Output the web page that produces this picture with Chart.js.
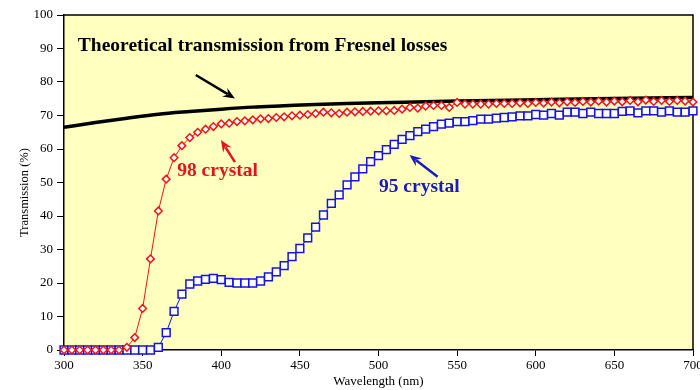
<!DOCTYPE html>
<html>
<head>
<meta charset="utf-8">
<script src="https://cdn.jsdelivr.net/npm/chart.js@4"></script>
<style>
  html, body { margin: 0; padding: 0; background: #fff; overflow: hidden; }
  #wrap { width: 700px; height: 390px; position: relative; }
</style>
</head>
<body>
<div id="wrap"><canvas id="chart"></canvas></div>
<script>
// ---- data ----
var wavelengths = [
  300, 305, 310, 315, 320, 325, 330, 335, 340, 345,
  350, 355, 360, 365, 370, 375, 380, 385, 390, 395,
  400, 405, 410, 415, 420, 425, 430, 435, 440, 445,
  450, 455, 460, 465, 470, 475, 480, 485, 490, 495,
  500, 505, 510, 515, 520, 525, 530, 535, 540, 545,
  550, 555, 560, 565, 570, 575, 580, 585, 590, 595,
  600, 605, 610, 615, 620, 625, 630, 635, 640, 645,
  650, 655, 660, 665, 670, 675, 680, 685, 690, 695,
  700
];

var crystal98 = [
  0, 0, 0, 0, 0, 0, 0, 0, 0.8, 3.7,
  12.4, 27.2, 41.5, 51.0, 57.4, 61.0, 63.4, 65.0, 65.9, 66.7,
  67.5, 67.7, 68.2, 68.4, 68.7, 69.0, 69.1, 69.4, 69.6, 69.9,
  70.1, 70.3, 70.6, 71.0, 70.8, 70.6, 71.0, 71.1, 71.2, 71.3,
  71.4, 71.4, 71.5, 71.9, 72.4, 72.2, 72.8, 73.0, 73.0, 72.4,
  73.9, 73.4, 73.4, 73.4, 73.4, 73.6, 73.6, 73.6, 73.8, 73.6,
  73.9, 73.7, 74.0, 73.8, 74.1, 73.9, 74.2, 74.0, 74.3, 74.0,
  74.3, 74.1, 74.5, 74.1, 74.6, 74.2, 74.5, 74.2, 74.5, 74.3,
  74.0
];

var crystal95 = [
  0, 0, 0, 0, 0, 0, 0, 0, 0, 0,
  0, 0, 0.8, 5.2, 11.5, 16.7, 19.7, 20.6, 21.1, 21.4,
  21.0, 20.2, 20.0, 20.0, 20.0, 20.6, 21.8, 23.3, 25.2, 27.9,
  30.3, 33.5, 36.7, 40.3, 43.8, 46.3, 49.3, 51.7, 54.1, 56.2,
  58.0, 59.8, 61.4, 62.9, 64.0, 65.2, 65.9, 66.7, 67.4, 67.7,
  68.2, 68.2, 68.5, 68.9, 68.9, 69.2, 69.4, 69.6, 69.9, 69.9,
  70.3, 70.1, 70.6, 70.1, 71.0, 71.0, 70.6, 71.0, 70.6, 70.6,
  70.6, 71.2, 71.4, 70.8, 71.4, 71.4, 71.0, 71.4, 71.0, 71.0,
  71.4
];

var fresnelNm = [300, 320, 340, 360, 380, 400, 420, 440, 460, 480, 500, 550, 600, 650, 700];
var fresnelT  = [66.5, 67.9, 69.2, 70.4, 71.2, 71.9, 72.5, 72.9, 73.3, 73.6, 73.8, 74.3, 74.7, 75.1, 75.4];

var xTicks = [300, 350, 400, 450, 500, 550, 600, 650, 700];
var yTicks = [0, 10, 20, 30, 40, 50, 60, 70, 80, 90, 100];

// text labels and arrows, in data units (nm, %)
var labels = [
  { text: 'Theoretical transmission from Fresnel losses', x: 308.8, y: 90.7, color: '#000000' },
  { text: '98 crystal', x: 372, y: 53.4, color: '#e0141e' },
  { text: '95 crystal', x: 500.3, y: 48.7, color: '#1a1ac0' }
];
var arrows = [
  { from: [383.8, 82.1], to: [408.7, 75.1], color: '#000000' },
  { from: [408.7, 56.1], to: [399.8, 62.7], color: '#e0141e' },
  { from: [537.6, 51.7], to: [519.7, 58.2], color: '#1a1ac0' }
];

var SERIF = '"Liberation Serif", "DejaVu Serif", serif';

function pairs(xs, ys) {
  return xs.map(function (x, i) { return { x: x, y: ys[i] }; });
}

function drawArrow(ctx, x1, y1, x2, y2, color) {
  var a = Math.atan2(y2 - y1, x2 - x1);
  var len = 12, half = 5;
  var c = Math.cos(a), s = Math.sin(a);
  ctx.strokeStyle = color;
  ctx.fillStyle = color;
  ctx.lineWidth = 2.5;
  ctx.lineCap = 'butt';
  ctx.beginPath();
  ctx.moveTo(x1, y1);
  ctx.lineTo(x2 - c * len * 0.7, y2 - s * len * 0.7);
  ctx.stroke();
  ctx.beginPath();
  ctx.moveTo(x2, y2);
  ctx.lineTo(x2 - c * len - s * half, y2 - s * len + c * half);
  ctx.lineTo(x2 - c * len * 0.65, y2 - s * len * 0.65);
  ctx.lineTo(x2 - c * len + s * half, y2 - s * len - c * half);
  ctx.closePath();
  ctx.fill();
}

// ---- plot frame, background, annotations ----
var framePlugin = {
  id: 'frame',
  beforeDraw: function (chart) {
    var a = chart.chartArea, ctx = chart.ctx;
    ctx.save();
    ctx.fillStyle = '#ffffc0';
    ctx.fillRect(a.left, a.top, a.right - a.left, a.bottom - a.top);
    ctx.restore();
  },
  beforeDatasetsDraw: function (chart) {
    var a = chart.chartArea, ctx = chart.ctx;
    ctx.save();
    ctx.strokeStyle = '#000';
    ctx.lineWidth = 1.5;
    ctx.beginPath();
    ctx.moveTo(a.left, a.top);
    ctx.lineTo(a.right, a.top);
    ctx.lineTo(a.right, a.bottom);
    ctx.stroke();
    ctx.restore();
  },
  afterDraw: function (chart) {
    var ctx = chart.ctx, sx = chart.scales.x, sy = chart.scales.y, a = chart.chartArea;
    ctx.save();

    // y-axis title, sits a little below the middle of the axis
    ctx.translate(25, (a.top + a.bottom) / 2 + 10);
    ctx.rotate(-Math.PI / 2);
    ctx.font = '12.5px ' + SERIF;
    ctx.fillStyle = '#000';
    ctx.textAlign = 'center';
    ctx.textBaseline = 'middle';
    ctx.fillText('Transmission (%)', 0, 0);
    ctx.setTransform(1, 0, 0, 1, 0, 0);

    ctx.font = 'bold 19.5px ' + SERIF;
    ctx.textBaseline = 'middle';
    ctx.textAlign = 'left';
    labels.forEach(function (l) {
      ctx.fillStyle = l.color;
      ctx.fillText(l.text, sx.getPixelForValue(l.x), sy.getPixelForValue(l.y));
    });
    arrows.forEach(function (r) {
      drawArrow(ctx,
        sx.getPixelForValue(r.from[0]), sy.getPixelForValue(r.from[1]),
        sx.getPixelForValue(r.to[0]), sy.getPixelForValue(r.to[1]), r.color);
    });
    ctx.restore();
  }
};

new Chart(document.getElementById('chart'), {
  type: 'line',
  data: {
    datasets: [{
      label: '98 crystal',
      data: pairs(wavelengths, crystal98),
      borderColor: '#f01414',
      borderWidth: 1,
      pointStyle: 'rectRot',
      pointRadius: 3.8,
      pointBorderWidth: 1.5,
      pointBorderColor: '#f01414',
      pointBackgroundColor: '#ffffff',
      tension: 0,
      clip: false,
      order: 0
    }, {
      label: '95 crystal',
      data: pairs(wavelengths, crystal95),
      borderColor: '#1414dc',
      borderWidth: 1,
      pointStyle: 'rect',
      pointRadius: 5.5,
      pointBorderWidth: 1.5,
      pointBorderColor: '#1414dc',
      pointBackgroundColor: '#ffffff',
      tension: 0,
      clip: false,
      order: 1
    }, {
      label: 'Fresnel',
      data: pairs(fresnelNm, fresnelT),
      borderColor: '#000000',
      borderWidth: 3.5,
      pointRadius: 0,
      tension: 0.4,
      cubicInterpolationMode: 'monotone',
      order: 2
    }]
  },
  options: {
    responsive: true,
    maintainAspectRatio: false,
    animation: false,
    devicePixelRatio: 1,
    layout: { padding: { left: 0, right: 3, top: 15, bottom: 0 } },
    plugins: { legend: { display: false }, tooltip: { enabled: false } },
    scales: {
      x: {
        type: 'linear',
        min: 300, max: 700,
        afterBuildTicks: function (s) { s.ticks = xTicks.map(function (v) { return { value: v }; }); },
        afterFit: function (s) { s.height = 40; s.paddingLeft = 0; s.paddingRight = 0; },
        border: { display: true, color: '#000', width: 1.5 },
        grid: { drawOnChartArea: false, drawTicks: true, tickLength: 6, tickColor: '#000' },
        ticks: { color: '#000', padding: 2, maxRotation: 0, font: { family: SERIF, size: 13 } },
        title: { display: true, text: 'Wavelength (nm)', color: '#000', padding: { top: 0, bottom: 1 }, font: { family: SERIF, size: 13 } }
      },
      y: {
        min: 0, max: 100,
        afterBuildTicks: function (s) { s.ticks = yTicks.map(function (v) { return { value: v }; }); },
        afterFit: function (s) { s.width = 64; },
        border: { display: true, color: '#000', width: 1.5 },
        grid: { drawOnChartArea: false, drawTicks: true, tickLength: 7, tickColor: '#000' },
        ticks: { color: '#000', padding: 4, font: { family: SERIF, size: 13 } },
        title: { display: false }
      }
    }
  },
  plugins: [framePlugin]
});
</script>
</body>
</html>
